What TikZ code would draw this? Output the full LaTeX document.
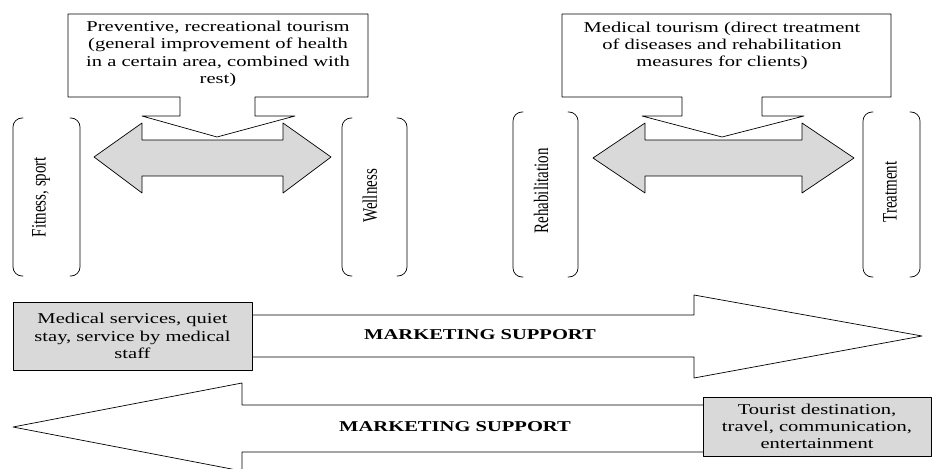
\documentclass[tikz,border=0pt]{standalone}
\usepackage{fontspec}
\setmainfont{Liberation Serif}[FakeStretch=1.37]
\newfontfamily\uprightserif{Liberation Serif}
\usepackage{graphicx}
\definecolor{boxgray}{HTML}{D9D9D9}

\begin{document}
\begin{tikzpicture}[line cap=round,line join=round,x=1pt,y=-1pt,
		every node/.style={font=\fontsize{15}{17.3}\selectfont,inner sep=0pt},
		outline/.style={line width=0.7pt,draw=black},
		grayarrow/.style={outline,fill=boxgray},
		graybox/.style={outline,fill=boxgray,align=center},
		bracket/.style={line width=0.7pt,rounded corners=9pt},
		sidelabel/.style={rotate=90},
		marklabel/.style={font=\fontsize{15}{17.3}\selectfont\bfseries}]
		\useasboundingbox (0,0) rectangle (933,468);
		\clip (0,0) rectangle (933,468);
		% callouts
		\draw[outline,fill=white] (68,14) -- (368,14) -- (368,97) -- (255,97) -- (255,116) -- (295,116) -- (217,137) -- (142,116) -- (180,116) -- (180,97) -- (68,97) -- cycle;
		\draw[outline,fill=white] (562,14) -- (891,14) -- (891,97) -- (762,97) -- (762,116) -- (804,116) -- (722,137) -- (642,116) -- (682,116) -- (682,97) -- (562,97) -- cycle;
		\node[align=center] (prev) at (218,54) {Preventive, recreational tourism\\(general improvement of health\\in a certain area, combined with\\rest)};
		\node[align=center] (medt) at (722,46) {Medical tourism (direct treatment\\of diseases and rehabilitation\\measures for clients)};
		% double arrows
		\draw[grayarrow] (94,157) -- (142,123) -- (142,140) -- (283,140) -- (283,123) -- (331,157) -- (283,193) -- (283,176) -- (142,176) -- (142,193) -- cycle;
		\draw[grayarrow] (593,158) -- (645,123) -- (645,140) -- (802,140) -- (802,123) -- (854,158) -- (802,193) -- (802,176) -- (645,176) -- (645,193) -- cycle;
		% brackets
		\draw[bracket] (23,118) -- (13,118) -- (13,276) -- (23,276);
		\draw[bracket] (70,118) -- (80,118) -- (80,276) -- (70,276);
		\draw[bracket] (352,118) -- (342,118) -- (342,276) -- (352,276);
		\draw[bracket] (397,118) -- (407,118) -- (407,276) -- (397,276);
		\draw[bracket] (523,112) -- (513,112) -- (513,277) -- (523,277);
		\draw[bracket] (568,112) -- (578,112) -- (578,277) -- (568,277);
		\draw[bracket] (873,112) -- (863,112) -- (863,277) -- (873,277);
		\draw[bracket] (910,112) -- (920,112) -- (920,277) -- (910,277);
		\node[sidelabel] (fit) at (41,197) {\uprightserif\scalebox{1}[1.37]{Fitness, sport}};
		\node[sidelabel] (well) at (370,196) {\uprightserif\scalebox{1}[1.37]{Wellness}};
		\node[sidelabel] (rehab) at (541,191) {\uprightserif\scalebox{1}[1.37]{Rehabilitation}};
		\node[sidelabel] (treat) at (890,192) {\uprightserif\scalebox{1}[1.37]{Treatment}};
		% marketing arrows
		\draw[outline,fill=white] (252,315) -- (694,315) -- (694,295) -- (922,336) -- (694,378) -- (694,357) -- (252,357);
		\node[graybox,minimum width=239pt,minimum height=68pt] (mserv) at (132.5,336) {Medical services, quiet\\stay, service by medical\\staff};
		\node[marklabel] (mark1) at (480,335) {MARKETING SUPPORT};
		\draw[outline,fill=white] (703,405) -- (242,405) -- (242,383) -- (13,427) -- (242,471) -- (242,452) -- (703,452);
		\node[graybox,minimum width=228pt,minimum height=59pt] (tdest) at (817,426.5) {Tourist destination,\\travel, communication,\\entertainment};
		\node[marklabel] (mark2) at (455,427) {MARKETING SUPPORT};
\end{tikzpicture}
\end{document}
